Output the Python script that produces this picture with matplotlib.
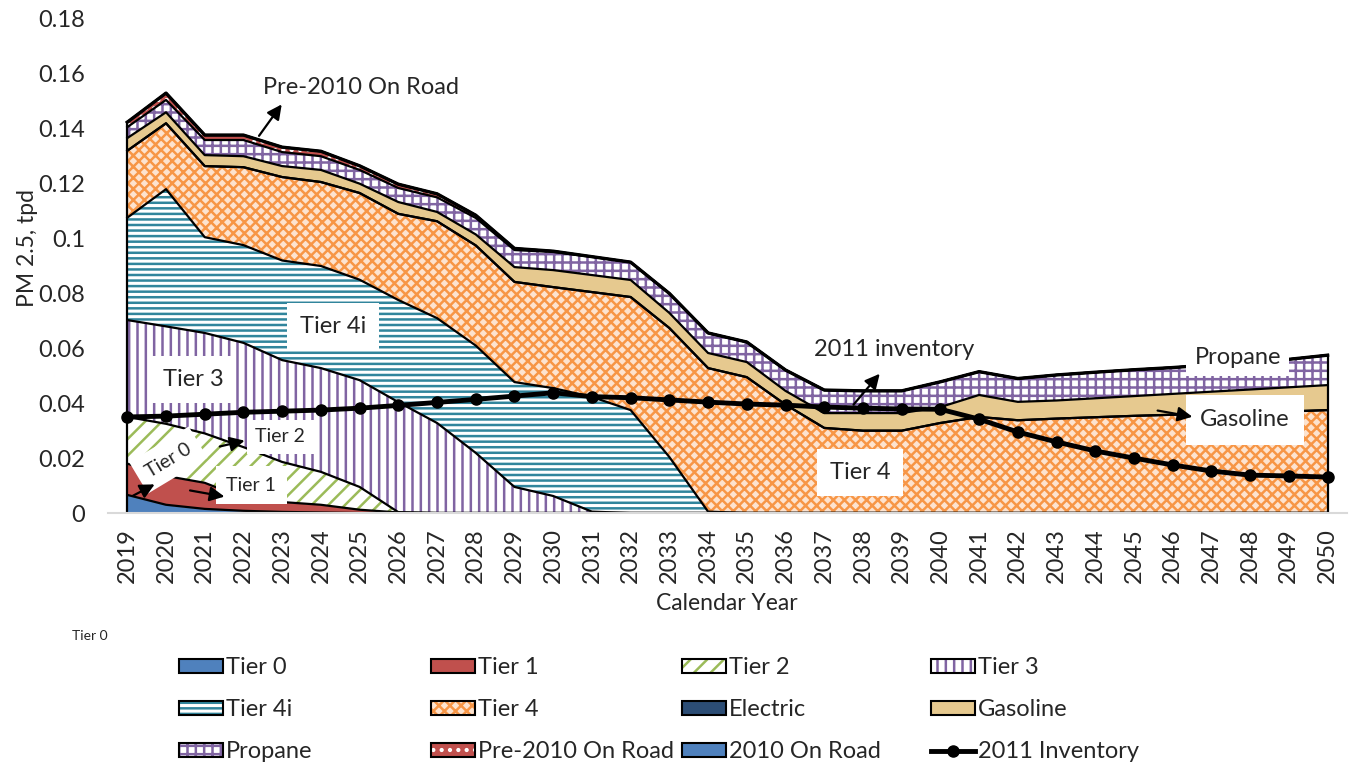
import numpy as np
import matplotlib.pyplot as plt
from matplotlib.patches import Patch
from matplotlib.lines import Line2D

plt.rcParams['font.family'] = ['Lato', 'DejaVu Sans']
plt.rcParams['hatch.linewidth'] = 1.8

years = np.arange(2019, 2051)

tier0 = [0.0066, 0.003, 0.0015, 0.0008, 0.0004, 0.0002] + [0] * 26
tier1 = [0.0114, 0.0105, 0.0095, 0.0047, 0.0036, 0.0028, 0.0012, 0.0002] + [0] * 24
tier2 = [0.017, 0.019, 0.018, 0.0185, 0.0146, 0.012, 0.0083, 0.0001] + [0] * 24
tier3 = [0.0353, 0.0355, 0.0366, 0.038, 0.0371, 0.0378, 0.0389, 0.0401, 0.0328,
         0.0219, 0.0095, 0.0062, 0.0005] + [0] * 19
tier4i = [0.0373, 0.050, 0.0349, 0.0356, 0.0363, 0.0372, 0.0366, 0.0372, 0.0382,
          0.0391, 0.0382, 0.0393, 0.0418, 0.0375, 0.0204, 0.0005] + [0] * 16
tier4 = [0.0244, 0.024, 0.0259, 0.0284, 0.0304, 0.0306, 0.0316, 0.0314, 0.0353,
         0.0365, 0.0365, 0.0368, 0.0382, 0.0412, 0.047, 0.0523, 0.0495, 0.0395,
         0.031, 0.030, 0.030, 0.0328, 0.035, 0.0338, 0.0344, 0.0349, 0.0354,
         0.0358, 0.0362, 0.0366, 0.037, 0.0375]
electric = [0] * 32
gasoline = [0.0046, 0.004, 0.004, 0.004, 0.004, 0.0044, 0.0034, 0.0043, 0.0034,
            0.004, 0.0054, 0.0062, 0.0062, 0.0062, 0.0055, 0.0055, 0.0055, 0.005,
            0.0054, 0.0064, 0.0064, 0.0058, 0.008, 0.0067, 0.0066, 0.0069, 0.0072,
            0.0076, 0.008, 0.0084, 0.0088, 0.0091]
propane = [0.004, 0.0045, 0.0055, 0.0059, 0.0051, 0.005, 0.005, 0.0051, 0.0053,
           0.006, 0.0062, 0.0066, 0.0066, 0.0065, 0.0071, 0.0073, 0.0073, 0.0076,
           0.0084, 0.0081, 0.0081, 0.0092, 0.0085, 0.0085, 0.0093, 0.0095, 0.0096,
           0.0096, 0.0098, 0.01, 0.0102, 0.0109]
pre2010 = [0.0018, 0.0025, 0.0018, 0.0018, 0.0018, 0.0018, 0.0015, 0.0014, 0.0013,
           0.001, 0.0006, 0.0003, 0.0001] + [0] * 19
onroad2010 = [0] * 32
inventory = [0.035, 0.0353, 0.036, 0.0367, 0.0371, 0.0375, 0.0382, 0.0392, 0.0403,
             0.0414, 0.0426, 0.0438, 0.0424, 0.042, 0.0412, 0.0404, 0.0397, 0.0393,
             0.0386, 0.0382, 0.0379, 0.0378, 0.0342, 0.0295, 0.0259, 0.0226, 0.020,
             0.0175, 0.0153, 0.0138, 0.0135, 0.0131]

# label, values, face, hatch colour, hatch
layers = [
    ('Tier 0', tier0, '#4F81BD', '#4F81BD', None),
    ('Tier 1', tier1, '#C0504D', '#C0504D', None),
    ('Tier 2', tier2, 'white', '#9BBB59', '//'),
    ('Tier 3', tier3, 'white', '#8064A2', '||'),
    ('Tier 4i', tier4i, 'white', '#31859C', '---'),
    ('Tier 4', tier4, '#FDE3CF', '#F79646', 'xxx'),
    ('Electric', electric, '#2C4D75', '#2C4D75', None),
    ('Gasoline', gasoline, '#E6C98F', '#E6C98F', None),
    ('Propane', propane, 'white', '#8064A2', '++'),
    ('Pre-2010 On Road', pre2010, '#C0504D', 'white', '..'),
    ('2010 On Road', onroad2010, '#4F81BD', '#4F81BD', None),
]

fig = plt.figure(figsize=(13.56, 7.65), dpi=100)
ax = fig.add_axes([0.0796, 0.3294, 0.9137, 0.6458])

txt = '#262626'
base = np.zeros(len(years))
handles = {}
for name, vals, fc, hc, hatch in layers:
    top = base + np.array(vals)
    ax.fill_between(years, base, top, facecolor=fc, edgecolor=hc, hatch=hatch,
                    linewidth=0, zorder=1)
    ax.plot(years, top, color='black', lw=1.6, zorder=2)
    handles[name] = (Patch(facecolor=fc, edgecolor=hc, hatch=hatch, linewidth=0),
                     Patch(fill=False, edgecolor='black', linewidth=1.5))
    base = top
ax.plot(years, base, color='black', lw=2.4, zorder=2)
ax.plot([years[0], years[0]], [0, base[0]], color='black', lw=1.6, zorder=2)
ax.plot([years[-1], years[-1]], [0, base[-1]], color='black', lw=1.6, zorder=2)

ax.plot(years, inventory, color='black', lw=3.5, marker='o', markersize=8, zorder=3)
handles['2011 Inventory'] = Line2D([], [], color='black', lw=3.5, marker='o', markersize=8)

ax.set_xlim(2018.5, 2050.5)
ax.set_ylim(0, 0.18)
ax.set_xticks(years)
ax.set_xticklabels([str(y) for y in years], rotation=90, fontsize=17, color=txt)
yt = np.arange(0, 0.181, 0.02)
ax.set_yticks(yt)
ax.set_yticklabels([f'{v:g}' for v in np.round(yt, 2)], fontsize=17, color=txt)
ax.tick_params(axis='both', length=0)
ax.tick_params(axis='y', pad=16.5)
ax.tick_params(axis='x', pad=11)
for s in ['top', 'right', 'left']:
    ax.spines[s].set_visible(False)
ax.spines['bottom'].set_color('#D9D9D9')
ax.spines['bottom'].set_linewidth(1.5)

fig.text(27 / 1356, 1 - 248 / 765, 'PM 2.5, tpd', rotation=90, ha='center', va='center',
         fontsize=16.5, color=txt)
fig.text(727 / 1356, 1 - 604 / 765, 'Calendar Year', ha='center', va='center',
         fontsize=16.5, color=txt)
fig.text(72 / 1356, 1 - 636 / 765, 'Tier 0', ha='left', va='center', fontsize=10, color=txt)

# annotations
box = dict(facecolor='white', edgecolor='none', boxstyle='square,pad=0.55')
arrow = dict(arrowstyle='-|>', color='black', lw=1.6, mutation_scale=22)
ax.text(2025.04, 0.1552, 'Pre-2010 On Road', ha='center', va='center', fontsize=17, color=txt, zorder=5)
ax.annotate('', xy=(2023.03, 0.1497), xytext=(2022.36, 0.1366), arrowprops=arrow, zorder=6)
ax.text(2024.32, 0.0678, 'Tier 4i', ha='center', va='center', fontsize=17, color=txt, bbox=box, zorder=5)
ax.text(2020.70, 0.0485, 'Tier 3', ha='center', va='center', fontsize=17, color=txt, bbox=box, zorder=5)
ax.text(2022.95, 0.0277, 'Tier 2', ha='center', va='center', fontsize=14, color=txt,
        bbox=dict(facecolor='white', edgecolor='none', boxstyle='square,pad=0.45'), zorder=5)
ax.annotate('', xy=(2022.1, 0.0266), xytext=(2021.32, 0.024), arrowprops=arrow, zorder=6)
ax.text(2022.2, 0.0102, 'Tier 1', ha='center', va='center', fontsize=14, color=txt,
        bbox=dict(facecolor='white', edgecolor='none', boxstyle='square,pad=0.55'), zorder=5)
ax.annotate('', xy=(2021.58, 0.0058), xytext=(2020.55, 0.0084), arrowprops=arrow, zorder=6)
ax.text(2020.06, 0.0193, 'Tier 0', ha='center', va='center', fontsize=14, color=txt, rotation=31,
        bbox=dict(facecolor='white', edgecolor='none', boxstyle='square,pad=0.5'), zorder=5)
ax.annotate('', xy=(2019.77, 0.0109), xytext=(2019.08, 0.0058), arrowprops=arrow, zorder=6)
ax.text(2037.92, 0.0149, 'Tier 4', ha='center', va='center', fontsize=17, color=txt, bbox=box, zorder=5)
ax.text(2038.8, 0.0597, '2011 inventory', ha='center', va='center', fontsize=17, color=txt, zorder=5)
ax.annotate('', xy=(2038.48, 0.0515), xytext=(2037.71, 0.0387), arrowprops=arrow, zorder=6)
ax.text(2047.68, 0.0568, 'Propane', ha='center', va='center', fontsize=17, color=txt,
        bbox=dict(facecolor='white', edgecolor='none', boxstyle='square,pad=0.35'), zorder=5)
ax.text(2047.86, 0.0339, 'Gasoline', ha='center', va='center', fontsize=17, color=txt,
        bbox=dict(facecolor='white', edgecolor='none', boxstyle='square,pad=0.6'), zorder=5)
ax.annotate('', xy=(2046.58, 0.0349), xytext=(2045.54, 0.0375), arrowprops=arrow, zorder=6)

# legend: four columns placed separately
columns = [['Tier 0', 'Tier 4i', 'Propane'],
           ['Tier 1', 'Tier 4', 'Pre-2010 On Road'],
           ['Tier 2', 'Electric', '2010 On Road'],
           ['Tier 3', 'Gasoline', '2011 Inventory']]
col_x = [179, 431, 682, 931]
for cx, names in zip(col_x, columns):
    fig.legend([handles[n] for n in names], names, loc='upper left',
               bbox_to_anchor=(cx / 1356, 1 - 657 / 765), frameon=False,
               fontsize=17, handlelength=1.85, handleheight=0.55, handletextpad=0.15,
               labelspacing=0.9, borderpad=0, borderaxespad=0, labelcolor=txt)

fig.savefig('out.png', dpi=100)
